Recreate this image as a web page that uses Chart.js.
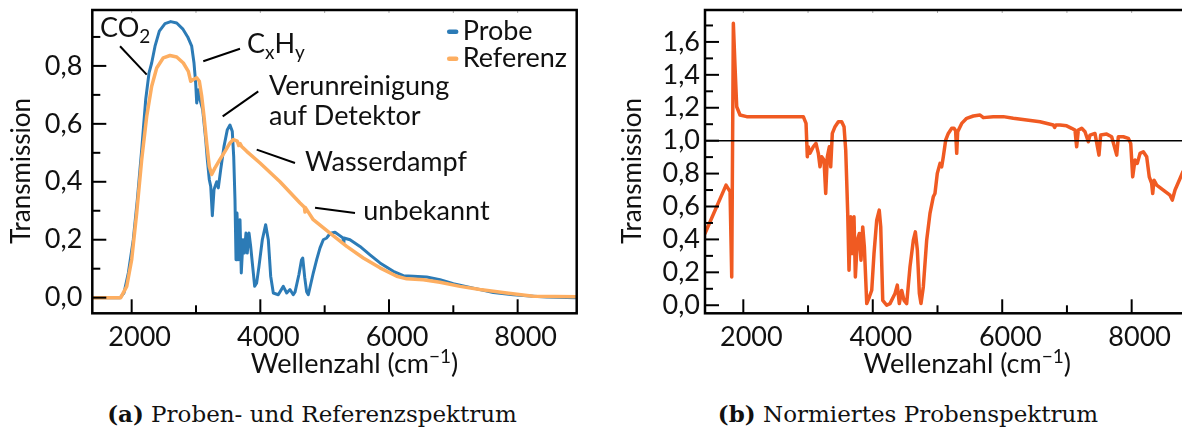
<!DOCTYPE html>
<html lang="de">
<head>
<meta charset="utf-8">
<title>Transmissionsspektren</title>
<script src="https://cdn.jsdelivr.net/npm/chart.js@4.4.1/dist/chart.umd.min.js"></script>
<style>
  html, body { margin: 0; padding: 0; background: #fff; overflow: hidden; }
  body { width: 1182px; height: 430px; position: relative; }
  canvas { position: absolute; top: 0; }
  #spektrum { left: 0; }
  #normiert { left: 600px; }
  .caption {
    position: absolute; top: 401px; width: 600px; text-align: center;
    font-family: 'DejaVu Serif', serif; font-size: 23px; line-height: 25px;
    color: #111; white-space: nowrap;
  }
  #capA { left: 12px; }
  #capB { left: 608px; }
</style>
</head>
<body>
<canvas id="spektrum" width="590" height="395"></canvas>
<canvas id="normiert" width="600" height="395"></canvas>
<div class="caption" id="capA"><b>(a)</b> Proben- und Referenzspektrum</div>
<div class="caption" id="capB"><b>(b)</b> Normiertes Probenspektrum</div>
<script>
// Probenspektrum, Wellenzahl in cm^-1
const probeWellenzahl = [
  1388, 1820, 1880, 1948, 2025, 2088, 2156, 2218, 2270, 2311,
  2363, 2430, 2518, 2607, 2700, 2793, 2871, 2933, 2969, 2995,
  3011, 3036, 3062, 3104, 3151, 3176, 3207, 3229, 3254, 3280,
  3322, 3347, 3384, 3435, 3487, 3528, 3564, 3586, 3606, 3622,
  3637, 3664, 3684, 3704, 3731, 3751, 3777, 3797, 3824, 3850,
  3881, 3912, 3943, 3979, 4031, 4083, 4124, 4161, 4202, 4279,
  4357, 4410, 4461, 4512, 4540, 4600, 4640, 4659, 4690, 4720,
  4746, 4823, 4876, 4928, 4979, 5032, 5072, 5109, 5161, 5230,
  5285, 5292, 5300, 5394, 5549, 5705, 5860, 6067, 6223, 6378,
  6586, 6793, 7000, 7311, 7622, 7932, 8243, 8451, 8918
];
const probeTransmission = [
  0, 0, 0.016, 0.085, 0.20, 0.338, 0.511, 0.684, 0.776, 0.81,
  0.868, 0.92, 0.946, 0.953, 0.948, 0.928, 0.90, 0.868, 0.81, 0.741,
  0.672, 0.718, 0.684, 0.649, 0.546, 0.477, 0.407, 0.384, 0.283, 0.373,
  0.40, 0.379, 0.442, 0.522, 0.58, 0.596, 0.574, 0.488, 0.338, 0.131,
  0.292, 0.131, 0.269, 0.085, 0.20, 0.154, 0.223, 0.154, 0.223, 0.177,
  0.108, 0.039, 0.051, 0.108, 0.20, 0.252, 0.20, 0.074, 0.016, 0.01,
  0.039, 0.016, 0.028, 0.01, 0.02, 0.08, 0.13, 0.137, 0.07, 0.02,
  0.01, 0.085, 0.131, 0.172, 0.20, 0.206, 0.218, 0.223, 0.226, 0.215,
  0.206, 0.19, 0.206, 0.20, 0.177, 0.148, 0.12, 0.091, 0.076, 0.074,
  0.071, 0.062, 0.048, 0.033, 0.018, 0.010, 0.005, 0.002, 0
];

// Referenzspektrum
const referenzWellenzahl = [
  1388, 1830, 1923, 2000, 2078, 2156, 2234, 2311, 2389, 2492,
  2596, 2700, 2803, 2881, 2918, 2958, 3011, 3052, 3089, 3124,
  3166, 3207, 3244, 3295, 3373, 3451, 3528, 3580, 3642, 3665,
  3685, 3710, 3788, 3995, 4306, 4617, 4685, 4694, 4703, 4823,
  5083, 5343, 5601, 5860, 6120, 6275, 6533, 6793, 7104, 7414,
  7830, 8243, 8918
];
const referenzTransmission = [
  0, 0, 0.039, 0.131, 0.292, 0.477, 0.626, 0.73, 0.793, 0.828,
  0.836, 0.831, 0.81, 0.781, 0.747, 0.753, 0.759, 0.747, 0.695, 0.626,
  0.534, 0.453, 0.425, 0.448, 0.477, 0.505, 0.534, 0.546, 0.54, 0.525,
  0.532, 0.522, 0.505, 0.465, 0.40, 0.327, 0.312, 0.296, 0.31, 0.269,
  0.223, 0.177, 0.137, 0.103, 0.074, 0.065, 0.062, 0.053, 0.039, 0.028,
  0.016, 0.005, 0.003
];

// Probe / Referenz
const normWellenzahl = [
  1408, 1733, 1795, 1821, 1846, 1872, 1898, 1949, 2052, 2927,
  2969, 2989, 3004, 3030, 3081, 3123, 3159, 3185, 3211, 3247,
  3273, 3298, 3329, 3350, 3375, 3417, 3468, 3520, 3556, 3582,
  3597, 3613, 3633, 3659, 3684, 3710, 3731, 3762, 3792, 3818,
  3845, 3870, 3907, 3947, 3984, 4019, 4061, 4100, 4123, 4154,
  4215, 4266, 4344, 4379, 4410, 4447, 4483, 4524, 4575, 4627,
  4658, 4689, 4720, 4745, 4781, 4833, 4884, 4935, 4961, 4997,
  5039, 5065, 5090, 5127, 5167, 5220, 5255, 5280, 5297, 5312,
  5374, 5451, 5554, 5657, 5708, 5862, 6017, 6171, 6378, 6584,
  6789, 6810, 6830, 6893, 6996, 7073, 7124, 7150, 7176, 7228,
  7279, 7330, 7356, 7433, 7495, 7521, 7614, 7691, 7769, 7794,
  7871, 7948, 7985, 8016, 8051, 8087, 8129, 8180, 8232, 8272,
  8309, 8325, 8345, 8387, 8489, 8592, 8628, 8670, 8747, 8790
];
const normTransmission = [
  0.436, 0.73, 0.69, 0.172, 1.713, 1.45, 1.206, 1.156, 1.146, 1.146,
  1.105, 0.902, 0.963, 0.923, 0.963, 0.984, 0.923, 0.841, 0.902, 0.882,
  0.679, 0.902, 0.963, 0.841, 1.044, 1.085, 1.115, 1.115, 1.085, 0.943,
  0.76, 0.558, 0.213, 0.537, 0.314, 0.537, 0.172, 0.395, 0.436, 0.274,
  0.476, 0.355, 0.01, 0.05, 0.091, 0.314, 0.517, 0.578, 0.476, 0.03,
  0, 0.01, 0.071, 0.122, 0.01, 0.09, 0.03, 0.01, 0.233, 0.395,
  0.446, 0.335, 0.071, 0.01, 0.111, 0.395, 0.558, 0.659, 0.679, 0.801,
  0.862, 0.841, 0.902, 1.004, 1.044, 1.075, 1.075, 1.06, 0.923, 1.054,
  1.105, 1.136, 1.15, 1.156, 1.14, 1.146, 1.146, 1.136, 1.125, 1.115,
  1.095, 1.08, 1.095, 1.095, 1.09, 1.075, 1.064, 0.963, 1.064, 1.075,
  1.054, 0.993, 1.034, 1.044, 0.912, 1.034, 1.04, 1.024, 0.912, 1.024,
  1.024, 1.014, 0.983, 0.78, 0.882, 0.862, 0.923, 0.933, 0.902, 0.78,
  0.74, 0.679, 0.76, 0.73, 0.70, 0.669, 0.639, 0.70, 0.77, 0.81
];

// Linie bei Transmission 1
const einsWellenzahl = [1408, 8892];
const einsTransmission = [1, 1];

// Achsen
const xRangeA = [1388, 8918];
const yRangeA = [-0.054, 0.993];
const xRangeB = [1408, 8892];
const yRangeB = [-0.049, 1.794];
const xMajorTicks = [2000, 4000, 6000, 8000];
const xMinorTicks = [3000, 5000, 7000];
const yMajorTicksA = [0, 0.2, 0.4, 0.6, 0.8];
const yMinorTicksA = [0.1, 0.3, 0.5, 0.7, 0.9];
const yMajorTicksB = [0, 0.2, 0.4, 0.6, 0.8, 1.0, 1.2, 1.4, 1.6];
const yMinorTicksB = [0.1, 0.3, 0.5, 0.7, 0.9, 1.1, 1.3, 1.5, 1.7];

const FONT = 'Lato';
const INK = '#111';
const SIZE = 27;

const toPoints = (xs, ys) => xs.map((x, i) => ({ x, y: ys[i] }));

// Text mit Tief-/Hochstellungen: parts = [[text, 'sub'|'sup'|undefined], ...]
function drawParts(ctx, parts, x, y, size, align) {
  const fontFor = k => `${k ? Math.round(size * 0.7) : size}px ${FONT}`;
  const widths = parts.map(([t, k]) => { ctx.font = fontFor(k); return ctx.measureText(t).width; });
  const total = widths.reduce((a, b) => a + b, 0);
  let cx = align === 'center' ? x - total / 2 : x;
  ctx.textAlign = 'left';
  ctx.textBaseline = 'alphabetic';
  parts.forEach(([t, k], i) => {
    ctx.font = fontFor(k);
    const dy = k === 'sub' ? size * 0.22 : k === 'sup' ? -size * 0.38 : 0;
    ctx.fillText(t, cx, y + dy);
    cx += widths[i];
  });
}

// Rahmen, nach innen zeigende Striche, Achsentitel
const achsenRahmen = {
  id: 'achsenRahmen',
  afterDatasetsDraw(chart, args, o) {
    const { ctx, chartArea: a, scales: { x, y } } = chart;
    ctx.save();
    ctx.strokeStyle = '#aaa';
    ctx.lineWidth = 1;
    [...o.xMajor, ...o.xMinor].forEach(v => {
      const px = x.getPixelForValue(v);
      ctx.beginPath(); ctx.moveTo(px, a.top); ctx.lineTo(px, a.top + 3); ctx.stroke();
    });
    ctx.strokeStyle = '#000';
    ctx.lineWidth = 2;
    const xt = (list, len) => list.forEach(v => {
      const px = x.getPixelForValue(v);
      ctx.beginPath(); ctx.moveTo(px, a.bottom); ctx.lineTo(px, a.bottom - len); ctx.stroke();
    });
    const yt = (list, len) => list.forEach(v => {
      const py = y.getPixelForValue(v);
      ctx.beginPath(); ctx.moveTo(a.left, py); ctx.lineTo(a.left + len, py); ctx.stroke();
    });
    xt(o.xMajor, 14); xt(o.xMinor, 8);
    yt(o.yMajor, 14); yt(o.yMinor, 8);
    ctx.lineWidth = 2.5;
    ctx.strokeRect(a.left, a.top, a.right - a.left, a.bottom - a.top);

    ctx.fillStyle = INK;
    drawParts(ctx, [['Wellenzahl (cm'], ['\u22121', 'sup'], [')']],
      (a.left + a.right) / 2 + o.xTitleShift, o.xTitleBaseline, SIZE, 'center');
    ctx.translate(o.yTitleX, o.yTitleY);
    ctx.rotate(-Math.PI / 2);
    ctx.font = `26px ${FONT}`;
    ctx.textAlign = 'center';
    ctx.textBaseline = 'middle';
    ctx.fillText('Transmission', 0, 0);
    ctx.restore();
  }
};

// Beschriftungen mit Hinweislinien und Legende im Diagramm
const beschriftung = {
  id: 'beschriftung',
  afterDraw(chart, args, o) {
    if (!o.items) return;
    const { ctx, chartArea: a, scales: { x, y } } = chart;
    ctx.save();
    ctx.strokeStyle = '#000';
    ctx.fillStyle = INK;
    ctx.lineWidth = 2;
    o.items.forEach(it => {
      if (it.from) {
        ctx.beginPath();
        ctx.moveTo(x.getPixelForValue(it.from[0]), y.getPixelForValue(it.from[1]));
        ctx.lineTo(x.getPixelForValue(it.to[0]), y.getPixelForValue(it.to[1]));
        ctx.stroke();
      }
      it.lines.forEach((parts, i) => {
        drawParts(ctx, parts, x.getPixelForValue(it.at[0]),
          y.getPixelForValue(it.at[1]) + i * 30, SIZE, 'left');
      });
    });
    // Legende
    chart.data.datasets.filter(d => d.label).forEach((d, i) => {
      const ly = a.top + 21.7 + i * 27;
      ctx.strokeStyle = d.borderColor;
      ctx.lineWidth = 4.5;
      ctx.lineCap = 'round';
      ctx.beginPath(); ctx.moveTo(a.right - 127.5, ly); ctx.lineTo(a.right - 120.5, ly); ctx.stroke();
      ctx.fillStyle = INK;
      ctx.font = `${SIZE}px ${FONT}`;
      ctx.textAlign = 'left';
      ctx.textBaseline = 'alphabetic';
      ctx.fillText(d.label, a.right - 114, a.top + 30 + i * 26.7);
    });
    ctx.restore();
  }
};

function scaleOptions(xRange, yRange, yTicks, yWidth, yPad, height) {
  const tickFont = { family: FONT, size: SIZE };
  return {
    x: {
      type: 'linear', min: xRange[0], max: xRange[1],
      afterBuildTicks: s => { s.ticks = xMajorTicks.map(v => ({ value: v })); },
      afterFit: s => { s.height = height - 313.3; s.paddingLeft = 0; s.paddingRight = 0; },
      grid: { display: false, drawTicks: false },
      border: { display: false },
      ticks: { font: tickFont, color: INK, padding: 8, labelOffset: 8, maxRotation: 0, autoSkip: false,
        callback: v => String(v) }
    },
    y: {
      type: 'linear', min: yRange[0], max: yRange[1],
      afterBuildTicks: s => { s.ticks = yTicks.map(v => ({ value: v })); },
      afterFit: s => { s.width = yWidth; s.paddingTop = 0; s.paddingBottom = 0; },
      grid: { display: false, drawTicks: false },
      border: { display: false },
      ticks: { font: tickFont, color: INK, padding: yPad, autoSkip: false,
        callback: v => v.toFixed(1).replace('.', ',') }
    }
  };
}

const common = {
  responsive: false,
  animation: false,
  events: [],
  elements: { point: { radius: 0 }, line: { tension: 0, borderJoinStyle: 'round', borderCapStyle: 'round' } },
  plugins: { legend: { display: false }, tooltip: { enabled: false } }
};

new Chart(document.getElementById('spektrum'), {
  type: 'line',
  data: {
    datasets: [
      { label: 'Probe', data: toPoints(probeWellenzahl, probeTransmission),
        borderColor: '#2c7bb6', borderWidth: 3, order: 1 },
      { label: 'Referenz', data: toPoints(referenzWellenzahl, referenzTransmission),
        borderColor: '#fdae61', borderWidth: 3.5, order: 0 }
    ]
  },
  options: {
    ...common,
    layout: { padding: { top: 10, right: 590 - 576.7, left: 0, bottom: 0 } },
    scales: scaleOptions(xRangeA, yRangeA, yMajorTicksA, 92.3, 10, 395),
    plugins: {
      ...common.plugins,
      achsenRahmen: { xMajor: xMajorTicks, xMinor: xMinorTicks, yMajor: yMajorTicksA, yMinor: yMinorTicksA,
        xTitleShift: 20, xTitleBaseline: 373, yTitleX: 22, yTitleY: 171 },
      beschriftung: {
        items: [
          { lines: [[['CO'], ['2', 'sub']]], at: [1508, 0.901], from: [1819, 0.868], to: [2234, 0.770] },
          { lines: [[['C'], ['x', 'sub'], ['H'], ['y', 'sub']]], at: [3793, 0.845], from: [3684, 0.859], to: [3113, 0.816] },
          { lines: [[['Verunreinigung']], [['auf Detektor']]], at: [4135, 0.701], from: [3968, 0.712], to: [3415, 0.626] },
          { lines: [[['Wasserdampf']]], at: [4695, 0.436], from: [3944, 0.511], to: [4539, 0.465] },
          { lines: [[['unbekannt']]], at: [5601, 0.269], from: [4850, 0.310], to: [5472, 0.292] }
        ]
      }
    }
  },
  plugins: [achsenRahmen, beschriftung]
});

new Chart(document.getElementById('normiert'), {
  type: 'line',
  data: {
    datasets: [
      { data: toPoints(einsWellenzahl, einsTransmission), borderColor: '#000', borderWidth: 1.5, order: 0 },
      { data: toPoints(normWellenzahl, normTransmission), borderColor: '#f05a22', borderWidth: 3.5, order: 1 }
    ]
  },
  options: {
    ...common,
    layout: { padding: { top: 10, right: 600 - 589.4, left: 0, bottom: 0 } },
    scales: scaleOptions(xRangeB, yRangeB, yMajorTicksB, 105, 5, 395),
    plugins: {
      ...common.plugins,
      achsenRahmen: { xMajor: xMajorTicks, xMinor: xMinorTicks, yMajor: yMajorTicksB, yMinor: yMinorTicksB,
        xTitleShift: 20, xTitleBaseline: 373, yTitleX: 33, yTitleY: 171 },
      beschriftung: {}
    }
  },
  plugins: [achsenRahmen, beschriftung]
});
</script>
</body>
</html>
